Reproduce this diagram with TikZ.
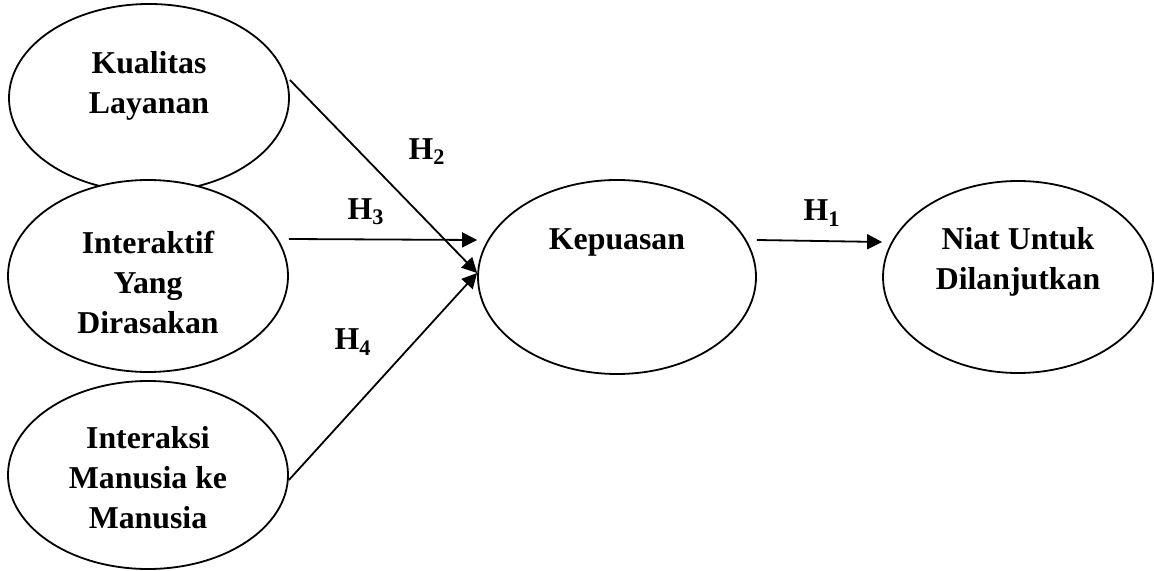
\documentclass[tikz,border=0pt]{standalone}
\usepackage{fontspec}
\setmainfont{Liberation Serif}
\usetikzlibrary{shapes.geometric,arrows.meta}
\tikzset{
	var/.style={ellipse,draw,fill=white,line width=.9pt,inner sep=0pt,minimum width=140pt,minimum height=94pt},
	txt/.style={font=\bfseries\fontsize{15.9}{20}\selectfont,align=center},
	conn/.style={line width=.9pt,-{Triangle[length=7.5pt,width=7.5pt]}}
}
\begin{document}
\begin{tikzpicture}[x=.5pt,y=-.5pt]
	\useasboundingbox (0,0) rectangle (1154,571);
	\node[var,label={[txt,yshift=6pt]center:{Kualitas\\Layanan}}] (kual) at (149,98) {};
	\node[var,minimum height=96pt,label={[txt,yshift=-3pt]center:{Interaktif\\Yang\\Dirasakan}}] (inter) at (148,276) {};
	\node[var,label={[txt,yshift=-1.5pt]center:{Interaksi\\Manusia ke\\Manusia}}] (manus) at (148,475) {};
	\node[var,minimum width=139pt,minimum height=97pt,label={[txt,yshift=17.5pt]center:{Kepuasan}}] (kep) at (617,277) {};
	\node[var,minimum width=135pt,minimum height=96pt,label={[txt,yshift=7.5pt]center:{Niat Untuk\\Dilanjutkan}}] (niat) at (1018,277) {};
	\draw[conn] ([yshift=9pt]kual.east) -- ([yshift=2pt]kep.west);
	\draw[conn] ([yshift=18.5pt]inter.east) -- ([yshift=18.5pt]kep.west);
	\draw[conn] ([yshift=-2.5pt]manus.east) -- ([yshift=2pt]kep.west);
	\draw[conn] ([yshift=18.5pt]kep.east) -- ([yshift=17.5pt]niat.west);
	\node[txt] (h1) at (822,213) {H\textsubscript{1}};
	\node[txt] (h2) at (427,152) {H\textsubscript{2}};
	\node[txt] (h3) at (366,212) {H\textsubscript{3}};
	\node[txt] (h4) at (353,342) {H\textsubscript{4}};
\end{tikzpicture}
\end{document}
